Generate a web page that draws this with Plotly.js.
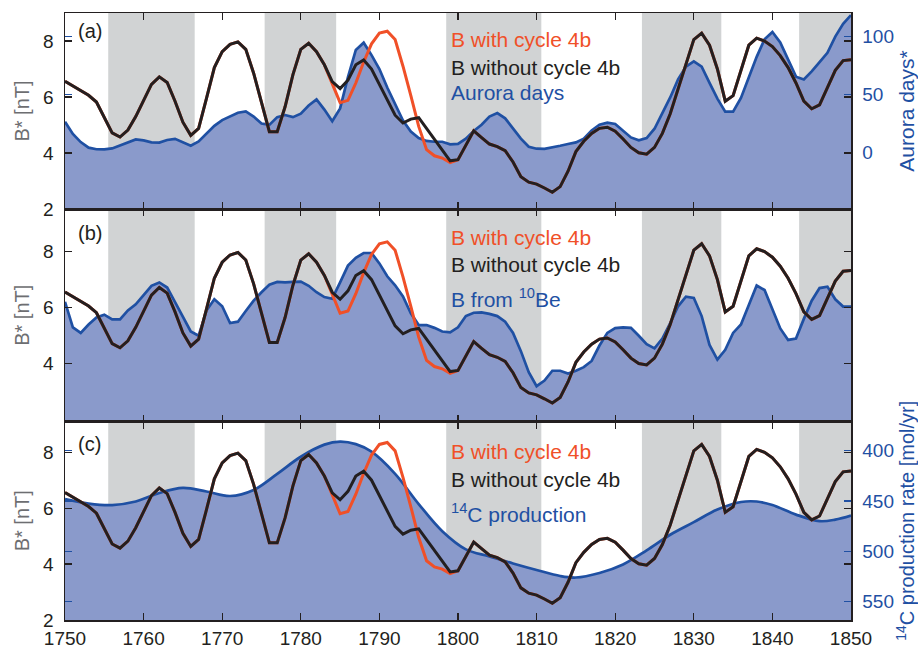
<!DOCTYPE html>
<html>
<head>
<meta charset="utf-8">
<script src="https://cdn.plot.ly/plotly-3.0.1.min.js"></script>
<style>
html,body{margin:0;padding:0;background:#fff;}
#chart{width:918px;height:650px;}
</style>
</head>
<body>
<div id="chart"></div>
<script>
// ---------------- DATA ----------------
const firstYear = 1750;
const lastYear = 1850;

// B* reconstruction without cycle 4b [nT], yearly 1750..1850
const bWithout = [
6.56,6.40,6.24,6.06,5.82,5.25,4.72,4.57,4.82,5.30,
5.90,6.45,6.72,6.52,5.85,5.10,4.63,4.88,5.95,7.05,
7.62,7.88,7.97,7.70,6.85,5.85,4.76,4.76,5.65,6.80,
7.70,7.92,7.62,7.15,6.55,6.30,6.60,7.15,7.32,7.00,
6.45,5.95,5.35,5.07,5.21,5.26,4.88,4.48,4.14,3.72,
3.76,4.30,4.79,4.55,4.32,4.23,4.08,3.68,3.15,2.96,
2.89,2.75,2.60,2.80,3.35,4.05,4.42,4.70,4.88,4.92,
4.78,4.50,4.20,4.01,3.96,4.20,4.70,5.40,6.30,7.20,
8.05,8.28,7.85,7.00,5.85,6.05,6.95,7.85,8.10,8.00,
7.80,7.48,7.05,6.50,5.85,5.58,5.72,6.35,6.95,7.30,
7.33];

// B* reconstruction with cycle 4b [nT], yearly 1750..1850
const bWith = [
6.56,6.40,6.24,6.06,5.82,5.25,4.72,4.57,4.82,5.30,
5.90,6.45,6.72,6.52,5.85,5.10,4.63,4.88,5.95,7.05,
7.62,7.88,7.97,7.70,6.85,5.85,4.76,4.76,5.65,6.80,
7.70,7.92,7.62,7.15,6.50,5.80,5.88,6.50,7.25,7.90,
8.28,8.35,8.05,7.10,6.05,4.95,4.12,3.90,3.82,3.66,
3.76,4.30,4.79,4.55,4.32,4.23,4.08,3.68,3.15,2.96,
2.89,2.75,2.60,2.80,3.35,4.05,4.42,4.70,4.88,4.92,
4.78,4.50,4.20,4.01,3.96,4.20,4.70,5.40,6.30,7.20,
8.05,8.28,7.85,7.00,5.85,6.05,6.95,7.85,8.10,8.00,
7.80,7.48,7.05,6.50,5.85,5.58,5.72,6.35,6.95,7.30,
7.33];

// Aurora days*, yearly 1750..1850
const auroraDays = [
26.6,16,9,4.2,2.8,2.7,3.5,6,9,11.3,
10.5,8.8,8.6,10.8,11.8,9,5.8,9.5,16.5,23,
28,31.5,34.3,35.5,31,25,23.8,30.5,32.3,30.5,
33.5,40.5,45.8,37,27,38,65,88.5,94.7,84,
72,56,41,27.5,18,12.5,10,9.3,9.3,7,
7.5,12,18.5,24,31,34,29.5,20.8,12,5,
3.3,3.2,4.2,5.8,7.3,8.7,12,19,24,25.7,
24.6,19,13,10.5,12.5,20.5,33.5,47.5,63,74,
78.5,74,60,46.5,35.2,35.2,47,64.5,82.5,97.6,
104,95,80,65.4,63,70,78,86,100,111,
118.5];

// B from 10Be [nT], yearly 1750..1850
const bFromBe10 = [
6.21,5.30,5.10,5.40,5.65,5.75,5.58,5.58,5.90,6.12,
6.45,6.78,6.90,6.72,6.20,5.65,5.15,5.00,5.90,6.30,
6.05,5.45,5.50,5.88,6.25,6.55,6.82,6.92,6.90,6.92,
6.93,6.78,6.55,6.38,6.32,6.90,7.50,7.78,7.95,7.95,
7.58,7.12,6.80,6.40,5.80,5.38,5.38,5.28,5.15,5.12,
5.30,5.70,5.82,5.83,5.78,5.70,5.50,5.10,4.45,3.70,
3.20,3.40,3.75,3.75,3.65,3.75,3.88,4.10,4.65,5.10,
5.27,5.30,5.28,5.00,4.70,4.55,4.90,5.45,6.05,6.39,
6.35,5.70,4.67,4.15,4.50,5.10,5.40,6.10,6.79,6.63,
5.95,5.26,4.85,4.90,5.60,6.25,6.70,6.75,6.30,6.04,
6.04];

// 14C production rate [mol/yr] (smooth curve)
const c14Years = [1750,1753,1756,1759,1762,1765,1768,1771,1774,1777,1780,1783,1785,1787,1789,1792,1795,1798,1801,1804,1807,1810,1813,1815,1818,1821,1824,1827,1830,1833,1836,1838,1840,1843,1846,1848,1850];
const c14Prod  = [448,452.5,454,450.5,442,437,440.5,445,439,423,406,394,391,393.5,401,423,453,480,498,505,512,518.5,524.5,526,521.5,513,499,483.5,471,458.5,451,450.5,454,463.5,470,468.5,464.5];

// Shaded solar cycles (odd cycles 1,3,5,7,9): start / end years
const bandStart = [1755.5, 1775.4, 1798.5, 1823.4, 1843.4];
const bandEnd   = [1766.5, 1784.5, 1810.6, 1833.5, 1856.0];

// Tick labels
const bTicksA = [2,4,6,8];
const bTicksB = [4,6,8];
const bTicksC = [2,4,6,8];
const auroraTicks = [0,50,100];
const c14Ticks = [400,450,500,550];

// Texts
const lblWith = 'B with cycle 4b';
const lblWithout = 'B without cycle 4b';
const lblAurora = 'Aurora days';
const lblBe = 'B from <sup>10</sup>Be';
const lblC14 = '<sup>14</sup>C production';

// ---------------- STYLE ----------------
const FONT = 'Liberation Sans, Arial, Helvetica, sans-serif';
const INK = '#231f20', RED = '#f05028', BLUE = '#1f50a3', FILL = '#8a9acb', GRAY = '#d1d3d4', TGRAY = '#6d6e71';

const years = [];
for (let y = firstYear; y <= lastYear; y++) years.push(y);

// figure geometry (px)
const W = 918, H = 650;
const M = {l: 65, r: 67, t: 13, b: 30};
const plotH = H - M.t - M.b;
const plotW = W - M.l - M.r;
const py2paper = py => (H - M.b - py) / plotH;
const px2paper = px => (px - M.l) / plotW;
const domA = [py2paper(209), 1];
const domB = [py2paper(421.5), py2paper(209)];
const domC = [0, py2paper(421.5)];

const rangeA_B = [2, 9];
const rangeA_aur = [-48.7, 120.3];
const rangeB_B = [1.94, 9.52];
const rangeC_B = [2, 9.1];
const rangeC_c14 = [568.2, 371];

function xAxis(anchor, labels) {
  return {range: [firstYear, lastYear], anchor: anchor, tick0: 1750, dtick: 10,
    ticks: 'inside', ticklen: 7, tickwidth: 1.2, tickcolor: INK,
    showline: true, linecolor: INK, linewidth: 1.5, mirror: 'ticks',
    showgrid: false, zeroline: false, showticklabels: labels,
    tickfont: {family: FONT, size: 19, color: INK}, ticklabelstandoff: 1};
}
function bAxis(extra) {
  return Object.assign({side: 'left', ticks: 'inside', ticklen: 7, tickwidth: 1.2, tickcolor: INK,
    showline: true, linecolor: INK, linewidth: 1.5, mirror: 'ticks',
    showgrid: false, zeroline: false, tickmode: 'array',
    tickfont: {family: FONT, size: 19, color: INK}, ticklabelstandoff: 6,
    title: {text: 'B* [nT]', font: {family: FONT, size: 20, color: TGRAY}, standoff: 8}}, extra);
}
function rAxis(extra) {
  return Object.assign({side: 'right', ticks: 'inside', ticklen: 7, tickwidth: 1.2, tickcolor: BLUE,
    showline: true, linecolor: '#333a55', linewidth: 1.5, mirror: 'ticks',
    showgrid: false, zeroline: false, tickmode: 'array',
    tickfont: {family: FONT, size: 19, color: BLUE}, ticklabelstandoff: 6}, extra);
}

const traces = [];
// Panel (a)
traces.push({x: years, y: years.map(() => rangeA_aur[0] - 100), xaxis: 'x', yaxis: 'y', mode: 'lines',
  line: {width: 0}, hoverinfo: 'skip', showlegend: false});
traces.push({x: years, y: auroraDays, xaxis: 'x', yaxis: 'y', mode: 'lines', fill: 'tonexty',
  fillcolor: FILL, line: {color: BLUE, width: 2.7}, showlegend: false, name: lblAurora});
traces.push({x: years, y: bWith, xaxis: 'x', yaxis: 'y2', mode: 'lines', line: {color: RED, width: 3}, showlegend: false});
traces.push({x: years, y: bWithout, xaxis: 'x', yaxis: 'y2', mode: 'lines', line: {color: INK, width: 3}, showlegend: false});
// Panel (b)
traces.push({x: years, y: bFromBe10, xaxis: 'x2', yaxis: 'y3', mode: 'lines', fill: 'tozeroy',
  fillcolor: FILL, line: {color: BLUE, width: 2.7}, showlegend: false});
traces.push({x: years, y: bWith, xaxis: 'x2', yaxis: 'y3', mode: 'lines', line: {color: RED, width: 3}, showlegend: false});
traces.push({x: years, y: bWithout, xaxis: 'x2', yaxis: 'y3', mode: 'lines', line: {color: INK, width: 3}, showlegend: false});
// Panel (c)
traces.push({x: c14Years, y: c14Years.map(() => rangeC_c14[0] + 200), xaxis: 'x3', yaxis: 'y4', mode: 'lines',
  line: {width: 0}, hoverinfo: 'skip', showlegend: false});
traces.push({x: c14Years, y: c14Prod, xaxis: 'x3', yaxis: 'y4', mode: 'lines', fill: 'tonexty',
  fillcolor: FILL, line: {color: BLUE, width: 2.7, shape: 'spline', smoothing: 1}, showlegend: false});
traces.push({x: years, y: bWith, xaxis: 'x3', yaxis: 'y5', mode: 'lines', line: {color: RED, width: 3}, showlegend: false});
traces.push({x: years, y: bWithout, xaxis: 'x3', yaxis: 'y5', mode: 'lines', line: {color: INK, width: 3}, showlegend: false});

const shapes = bandStart.map((s, i) => ({type: 'rect', xref: 'x', yref: 'paper',
  x0: s, x1: Math.min(bandEnd[i], lastYear), y0: 0, y1: 1,
  fillcolor: GRAY, line: {width: 0}, layer: 'below'}));

function txt(text, px, py, color, size) {
  return {text: text, xref: 'paper', yref: 'paper', x: px2paper(px), y: py2paper(py),
    xanchor: 'left', yanchor: 'middle', showarrow: false,
    font: {family: FONT, size: size || 21, color: color}};
}
const LX = 449;
const annotations = [
  txt('(a)', 76, 31, INK, 20), txt('(b)', 76, 233, INK, 20), txt('(c)', 76, 444, INK, 20),
  txt(lblWith, LX, 39, RED), txt(lblWithout, LX, 67.5, INK), txt(lblAurora, LX, 93, BLUE),
  txt(lblWith, LX, 237, RED), txt(lblWithout, LX, 264, INK), txt(lblBe, LX, 297.5, BLUE),
  txt(lblWith, LX, 451, RED), txt(lblWithout, LX, 479, INK), txt(lblC14, LX, 512.5, BLUE)
];

const layout = {
  width: W, height: H, margin: M, paper_bgcolor: '#fff', plot_bgcolor: '#fff',
  showlegend: false, font: {family: FONT, color: INK},
  xaxis: xAxis('y', false),
  yaxis: rAxis({domain: domA, range: rangeA_aur, tickvals: auroraTicks, anchor: 'x',
    title: {text: 'Aurora days*', font: {family: FONT, size: 21, color: BLUE}, standoff: 13}}),
  yaxis2: bAxis({overlaying: 'y', range: rangeA_B, tickvals: bTicksA, anchor: 'x'}),
  xaxis2: xAxis('y3', false),
  yaxis3: bAxis({domain: domB, range: rangeB_B, tickvals: bTicksB, anchor: 'x2'}),
  xaxis3: xAxis('y4', true),
  yaxis4: rAxis({domain: domC, range: rangeC_c14, tickvals: c14Ticks, anchor: 'x3',
    title: {text: '<sup>14</sup>C production rate [mol/yr]', font: {family: FONT, size: 20, color: BLUE}, standoff: 11}}),
  yaxis5: bAxis({overlaying: 'y4', range: rangeC_B, tickvals: bTicksC, anchor: 'x3'}),
  shapes: shapes,
  annotations: annotations
};

Plotly.newPlot('chart', traces, layout, {staticPlot: true, displayModeBar: false});
</script>
</body>
</html>
